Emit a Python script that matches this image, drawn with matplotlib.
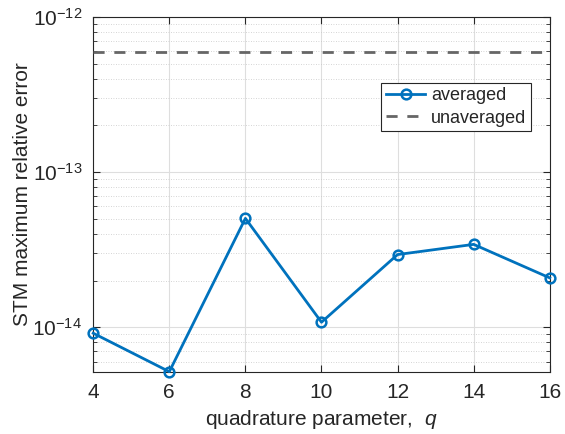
import numpy as np
import matplotlib
matplotlib.use("Agg")
import matplotlib.pyplot as plt
from matplotlib.ticker import LogLocator, NullFormatter, LogFormatterSciNotation

# data
q_vals = [4, 6, 8, 10, 12, 14, 16]
err_averaged = [9.15e-15, 5.17e-15, 5.03e-14, 1.077e-14, 2.94e-14, 3.42e-14, 2.08e-14]
err_unaveraged = 5.9e-13
y_ticks = [1e-14, 1e-13, 1e-12]

plt.rcParams['font.family'] = ['Liberation Sans', 'DejaVu Sans']
plt.rcParams['mathtext.fontset'] = 'custom'
plt.rcParams['mathtext.rm'] = 'Liberation Sans'
plt.rcParams['mathtext.it'] = 'Liberation Sans:italic'

axcol = (0.15, 0.15, 0.15)

fig = plt.figure(figsize=(5.65, 4.34), dpi=100)
ax = fig.add_axes([0.165, 0.143, 0.808, 0.818])

# markers sit on the axes edge in the original, so don't clip them
ax.plot(q_vals, err_averaged, '-o', color='#0072BD', lw=2, ms=7, mfc='none',
        mew=1.8, label='averaged', zorder=3, clip_on=False)
ax.axhline(err_unaveraged, color=(0.4, 0.4, 0.4), lw=2, ls=(0, (4, 3.5)),
           label='unaveraged', zorder=3)

ax.set_yscale('log')
ax.set_xlim(4, 16)
ax.set_ylim(5.15e-15, 1e-12)
ax.set_xticks(q_vals)
ax.set_yticks(y_ticks)
ax.yaxis.set_major_formatter(LogFormatterSciNotation())
ax.yaxis.set_minor_locator(LogLocator(base=10, subs=np.arange(2, 10), numticks=20))
ax.yaxis.set_minor_formatter(NullFormatter())

ax.grid(True, which='major', color=(0.87, 0.87, 0.87), lw=0.8)
ax.grid(True, which='minor', axis='y', color=(0.78, 0.78, 0.78), lw=0.6, ls=(0, (1, 2)))
ax.set_axisbelow(True)

ax.tick_params(which='both', direction='in', top=True, right=True, colors=axcol,
               labelsize=15, labelcolor=axcol)
ax.tick_params(which='major', length=5, width=0.8, pad=8)
ax.tick_params(which='minor', length=3, width=0.6)
for s in ax.spines.values():
    s.set_color(axcol)
    s.set_linewidth(0.8)

ax.set_xlabel('quadrature parameter,  $q$', fontsize=15, color=axcol)
ax.set_ylabel('STM maximum relative error', fontsize=15, color=axcol, labelpad=0)

leg = ax.legend(loc='upper right', bbox_to_anchor=(0.958, 0.815), borderaxespad=0,
                fontsize=13, fancybox=False, framealpha=1, edgecolor=axcol,
                handlelength=2.2, handletextpad=0.3, borderpad=0.25, labelspacing=0.3)
leg.get_frame().set_linewidth(0.8)
for t in leg.get_texts():
    t.set_color(axcol)

fig.savefig('out.png', dpi=100)
